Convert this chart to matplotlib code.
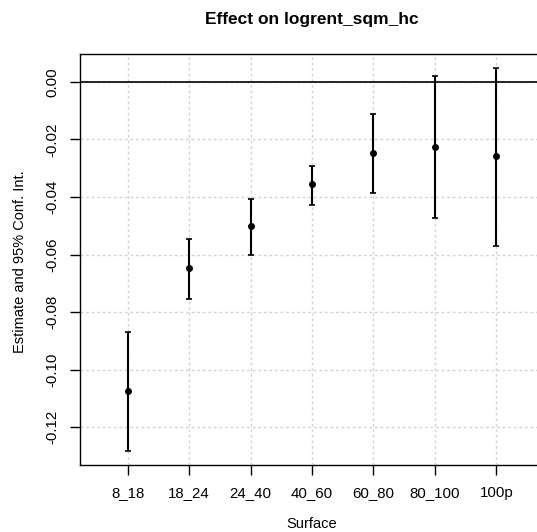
import matplotlib
matplotlib.use("Agg")
import matplotlib.pyplot as plt

plt.rcParams['font.family'] = ['Liberation Sans', 'DejaVu Sans']
plt.rcParams['axes.unicode_minus'] = False

# data
categories = ['8_18', '18_24', '24_40', '40_60', '60_80', '80_100', '100p']
estimate = [-0.1075, -0.0648, -0.0500, -0.0355, -0.0247, -0.0226, -0.0259]
ci_low = [-0.1283, -0.0754, -0.0601, -0.0427, -0.0386, -0.0472, -0.0569]
ci_high = [-0.0868, -0.0547, -0.0406, -0.0291, -0.0112, 0.0022, 0.0050]
yticks = [-0.12, -0.10, -0.08, -0.06, -0.04, -0.02, 0.00]

fig = plt.figure(figsize=(5.37, 5.32), dpi=100)
ax = fig.add_axes([80/537, 67/532, 464/537, 411/532])

pos = list(range(1, len(categories) + 1))
err_lo = [e - l for e, l in zip(estimate, ci_low)]
err_hi = [h - e for e, h in zip(estimate, ci_high)]

# grid first so everything else sits on top
for p in pos:
    ax.axvline(p, color='lightgray', lw=1, ls=(0, (2, 2)), zorder=0)
for t in yticks:
    ax.axhline(t, color='lightgray', lw=1, ls=(0, (2, 2)), zorder=0)

ax.axhline(0, color='black', lw=1.2, zorder=1)
ax.errorbar(pos, estimate, yerr=[err_lo, err_hi], fmt='o', color='black',
            ms=4, capsize=2.5, elinewidth=1.5, capthick=1.2, zorder=3)

ax.set_xlim(0.224, 7.776)
ax.set_ylim(-0.1331, 0.0097)
ax.set_xticks(pos)
ax.set_xticklabels(categories, fontsize=10.8)
ax.set_yticks(yticks)
ax.set_yticklabels(['%.2f' % t for t in yticks], fontsize=10.8,
                   rotation=90, va='center')
ax.tick_params(direction='out', length=7, width=1, pad=8)
for s in ax.spines.values():
    s.set_linewidth(1)

ax.set_xlabel('Surface', fontsize=10.5, va='center')
ax.xaxis.set_label_coords(0.5, -0.1436)
ax.set_ylabel('Estimate and 95% Conf. Int.', fontsize=10.5, va='center')
ax.yaxis.set_label_coords(-0.129, 0.494)
ax.text(0.499, 1.083, 'Effect on logrent_sqm_hc', transform=ax.transAxes,
        ha='center', va='center', fontsize=12.5, fontweight='bold')

fig.savefig('out.png', dpi=100)
